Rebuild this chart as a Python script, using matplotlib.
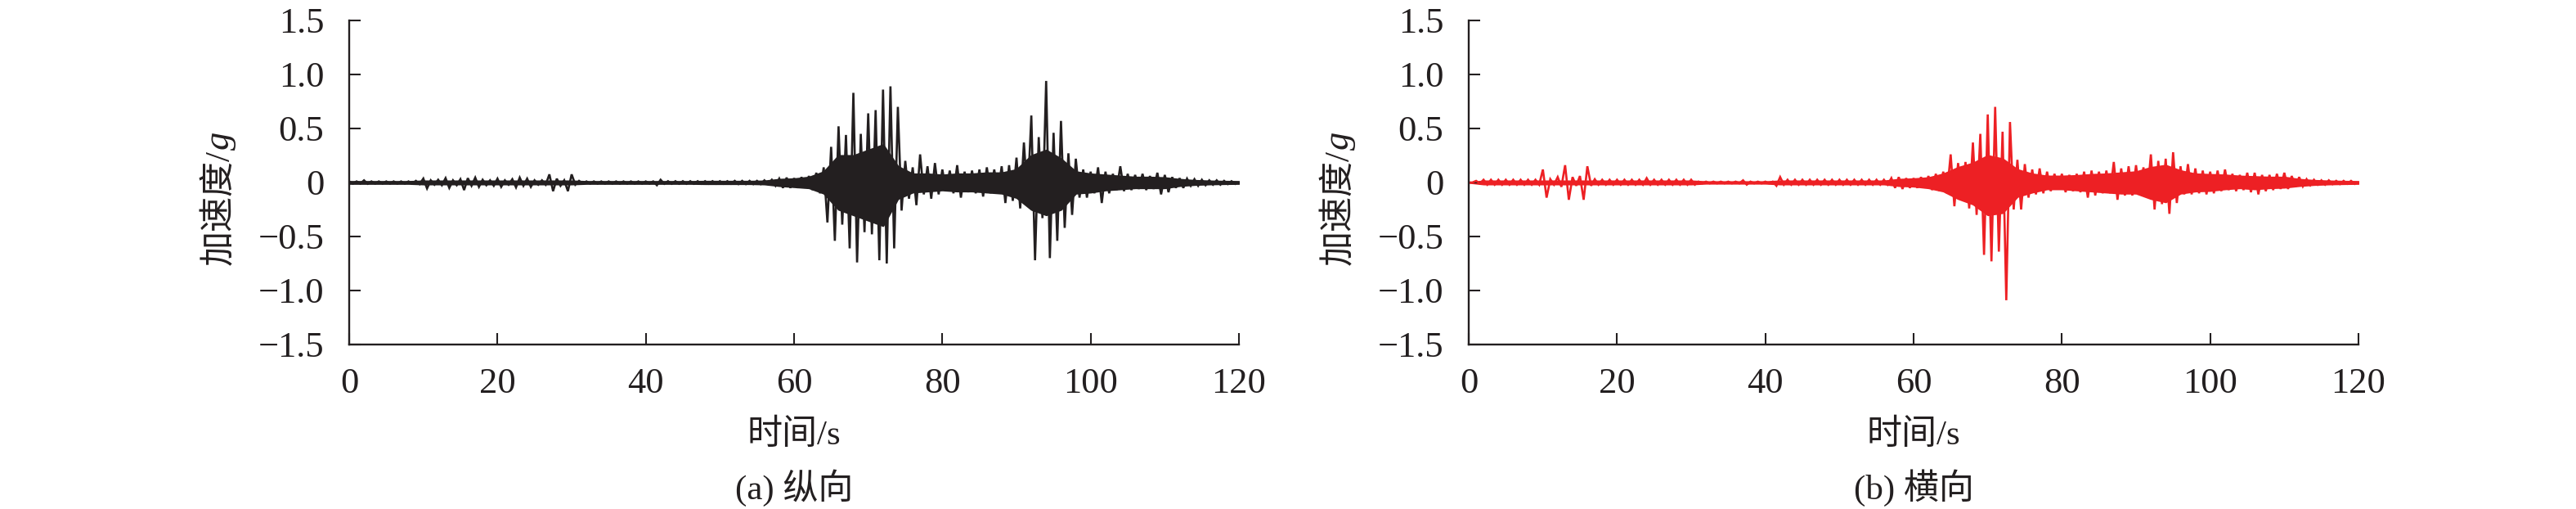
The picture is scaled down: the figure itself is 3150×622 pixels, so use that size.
import numpy as np
import matplotlib
matplotlib.use("Agg")
import matplotlib.pyplot as plt

# peak values, one pair per second (t = 0..119 s)
# upper peak sits at t, lower peak at t + 0.5
t_sec = list(range(120))

long_upper = [
    0.01, 0.01, 0.02, 0.01, 0.01, 0.01, 0.01, 0.01, 0.01, 0.015,
    0.036, 0.02, 0.025, 0.04, 0.02, 0.03, 0.04, 0.045, 0.025, 0.02,
    0.035, 0.02, 0.03, 0.045, 0.035, 0.02, 0.02, 0.075, 0.035, 0.02,
    0.075, 0.015, 0.01, 0.01, 0.01, 0.01, 0.01, 0.01, 0.01, 0.01,
    0.01, 0.01, 0.025, 0.012, 0.012, 0.012, 0.012, 0.012, 0.012, 0.012,
    0.012, 0.012, 0.015, 0.015, 0.015, 0.015, 0.02, 0.025, 0.035, 0.045,
    0.04, 0.05, 0.06, 0.09, 0.14, 0.33, 0.52, 0.44, 0.83, 0.45,
    0.64, 0.67, 0.86, 0.89, 0.70, 0.20, 0.14, 0.26, 0.15, 0.18,
    0.12, 0.11, 0.16, 0.10, 0.11, 0.12, 0.14, 0.12, 0.15, 0.16,
    0.23, 0.37, 0.62, 0.42, 0.94, 0.46, 0.57, 0.27, 0.22, 0.12,
    0.10, 0.14, 0.10, 0.08, 0.15, 0.08, 0.07, 0.08, 0.06, 0.09,
    0.07, 0.05, 0.04, 0.035, 0.03, 0.025, 0.02, 0.02, 0.015, 0.012,
]
long_lower = [
    -0.01, -0.01, -0.012, -0.01, -0.01, -0.01, -0.01, -0.01, -0.01, -0.015,
    -0.055, -0.02, -0.025, -0.05, -0.025, -0.07, -0.03, -0.04, -0.025, -0.03,
    -0.04, -0.02, -0.045, -0.03, -0.04, -0.02, -0.02, -0.08, -0.03, -0.08,
    -0.02, -0.01, -0.01, -0.01, -0.01, -0.01, -0.01, -0.01, -0.01, -0.01,
    -0.01, -0.025, -0.012, -0.012, -0.012, -0.012, -0.012, -0.012, -0.012, -0.012,
    -0.012, -0.012, -0.015, -0.015, -0.015, -0.015, -0.015, -0.03, -0.05, -0.05,
    -0.05, -0.05, -0.07, -0.10, -0.37, -0.54, -0.39, -0.61, -0.74, -0.46,
    -0.48, -0.72, -0.75, -0.61, -0.26, -0.15, -0.21, -0.11, -0.15, -0.11,
    -0.08, -0.10, -0.14, -0.09, -0.10, -0.13, -0.10, -0.10, -0.19, -0.17,
    -0.24, -0.15, -0.72, -0.33, -0.70, -0.54, -0.42, -0.30, -0.14, -0.14,
    -0.10, -0.19, -0.10, -0.07, -0.08, -0.07, -0.06, -0.07, -0.06, -0.11,
    -0.09, -0.05, -0.05, -0.03, -0.03, -0.025, -0.02, -0.02, -0.015, -0.012,
]

lat_upper = [
    0.0, 0.015, 0.025, 0.025, 0.025, 0.025, 0.025, 0.025, 0.025, 0.025,
    0.12, 0.03, 0.05, 0.16, 0.05, 0.06, 0.15, 0.03, 0.025, 0.025,
    0.025, 0.025, 0.025, 0.025, 0.04, 0.025, 0.025, 0.025, 0.025, 0.025,
    0.025, 0.008, 0.008, 0.008, 0.008, 0.008, 0.008, 0.02, 0.008, 0.008,
    0.008, 0.008, 0.05, 0.025, 0.025, 0.025, 0.025, 0.025, 0.025, 0.025,
    0.025, 0.025, 0.025, 0.025, 0.025, 0.025, 0.025, 0.04, 0.05, 0.04,
    0.04, 0.05, 0.06, 0.08, 0.10, 0.26, 0.18, 0.19, 0.37, 0.45,
    0.63, 0.70, 0.47, 0.56, 0.21, 0.17, 0.12, 0.13, 0.10, 0.08,
    0.08, 0.07, 0.08, 0.10, 0.11, 0.10, 0.11, 0.19, 0.13, 0.15,
    0.16, 0.14, 0.26, 0.20, 0.22, 0.28, 0.15, 0.17, 0.13, 0.11,
    0.10, 0.11, 0.12, 0.08, 0.07, 0.09, 0.09, 0.07, 0.07, 0.08,
    0.09, 0.06, 0.05, 0.03, 0.025, 0.02, 0.02, 0.015, 0.015, 0.015,
]
lat_lower = [
    0.0, -0.01, -0.02, -0.02, -0.02, -0.02, -0.02, -0.02, -0.02, -0.02,
    -0.14, -0.02, -0.04, -0.16, -0.03, -0.16, -0.03, -0.02, -0.02, -0.02,
    -0.02, -0.02, -0.02, -0.02, -0.02, -0.02, -0.02, -0.02, -0.02, -0.02,
    -0.02, -0.008, -0.008, -0.008, -0.008, -0.008, -0.008, -0.02, -0.008, -0.008,
    -0.008, -0.03, -0.02, -0.02, -0.02, -0.02, -0.02, -0.02, -0.02, -0.02,
    -0.02, -0.02, -0.02, -0.02, -0.02, -0.02, -0.02, -0.05, -0.06, -0.05,
    -0.05, -0.05, -0.07, -0.08, -0.10, -0.22, -0.15, -0.24, -0.30, -0.67,
    -0.73, -0.64, -1.09, -0.25, -0.25, -0.14, -0.11, -0.10, -0.08, -0.06,
    -0.09, -0.08, -0.09, -0.14, -0.12, -0.10, -0.10, -0.16, -0.12, -0.12,
    -0.11, -0.13, -0.25, -0.20, -0.29, -0.19, -0.11, -0.11, -0.10, -0.11,
    -0.10, -0.08, -0.07, -0.08, -0.07, -0.09, -0.11, -0.08, -0.07, -0.06,
    -0.06, -0.04, -0.035, -0.025, -0.02, -0.02, -0.015, -0.015, -0.012, -0.012,
]

# solid core of the trace (densely packed cycles), read every 2 s
t_core = list(range(0, 121, 2))
long_core_hi = [
    0.01, 0.01, 0.01, 0.01, 0.01, 0.015, 0.015, 0.015, 0.015, 0.015,
    0.015, 0.015, 0.015, 0.015, 0.015, 0.015, 0.01, 0.01, 0.01, 0.01,
    0.01, 0.01, 0.01, 0.01, 0.012, 0.012, 0.012, 0.012, 0.015, 0.03,
    0.035, 0.05, 0.10, 0.25, 0.25, 0.30, 0.35, 0.15, 0.08, 0.08,
    0.07, 0.08, 0.08, 0.09, 0.09, 0.12, 0.25, 0.30, 0.22, 0.10,
    0.08, 0.07, 0.06, 0.05, 0.05, 0.045, 0.03, 0.02, 0.015, 0.012, 0.01,
]
long_core_lo = [
    -0.01, -0.01, -0.01, -0.01, -0.01, -0.015, -0.015, -0.015, -0.015, -0.015,
    -0.015, -0.015, -0.015, -0.015, -0.015, -0.015, -0.01, -0.01, -0.01, -0.01,
    -0.01, -0.01, -0.01, -0.01, -0.012, -0.012, -0.012, -0.012, -0.015, -0.03,
    -0.04, -0.05, -0.10, -0.25, -0.30, -0.35, -0.40, -0.15, -0.09, -0.08,
    -0.07, -0.08, -0.08, -0.09, -0.10, -0.14, -0.25, -0.30, -0.25, -0.10,
    -0.09, -0.07, -0.06, -0.05, -0.05, -0.05, -0.03, -0.02, -0.015, -0.012, -0.01,
]
lat_core_hi = [
    0.0, 0.015, 0.015, 0.015, 0.015, 0.015, 0.015, 0.015, 0.015, 0.015,
    0.015, 0.015, 0.015, 0.015, 0.015, 0.015, 0.008, 0.008, 0.008, 0.008,
    0.008, 0.015, 0.015, 0.015, 0.015, 0.015, 0.015, 0.015, 0.015, 0.03,
    0.035, 0.045, 0.08, 0.14, 0.18, 0.25, 0.22, 0.12, 0.08, 0.06,
    0.06, 0.065, 0.075, 0.08, 0.09, 0.10, 0.14, 0.16, 0.11, 0.08,
    0.075, 0.07, 0.06, 0.055, 0.05, 0.05, 0.03, 0.02, 0.015, 0.012, 0.01,
]
lat_core_lo = [
    0.0, -0.015, -0.015, -0.015, -0.015, -0.015, -0.015, -0.015, -0.015, -0.015,
    -0.015, -0.015, -0.015, -0.015, -0.015, -0.015, -0.008, -0.008, -0.008, -0.008,
    -0.008, -0.015, -0.015, -0.015, -0.015, -0.015, -0.015, -0.015, -0.015, -0.03,
    -0.035, -0.05, -0.08, -0.15, -0.20, -0.30, -0.28, -0.13, -0.09, -0.06,
    -0.06, -0.07, -0.08, -0.09, -0.10, -0.10, -0.15, -0.18, -0.10, -0.08,
    -0.075, -0.06, -0.05, -0.06, -0.05, -0.045, -0.03, -0.02, -0.015, -0.012, -0.01,
]

x_ticks = [0, 20, 40, 60, 80, 100, 120]
y_ticks = [-1.5, -1.0, -0.5, 0, 0.5, 1.0, 1.5]
y_ticklabels = ['\u22121.5', '\u22121.0', '\u22120.5', '0', '0.5', '1.0', '1.5']
captions = ['(a) 纵向', '(b) 横向']
colors = ['#231f20', '#ed2024']

FAM = ['Liberation Serif', 'Noto Sans CJK SC']
plt.rcParams['font.family'] = FAM
AXC = '#231f20'


def zigzag(t, up, lo):
    xs, ys = [], []
    for ti, u, l in zip(t, up, lo):
        xs += [ti, ti + 0.5]
        ys += [u, l]
    return np.array(xs), np.array(ys)


fig = plt.figure(figsize=(31.5, 6.22), dpi=100)
lefts = [427 / 3150, 1796 / 3150]
W = 1088 / 3150
B = 1 - 421 / 622
H = 396 / 622

series = [(long_upper, long_lower, long_core_hi, long_core_lo),
          (lat_upper, lat_lower, lat_core_hi, lat_core_lo)]
for k in range(2):
    up, lo, chi, clo = series[k]
    ax = fig.add_axes([lefts[k], B, W, H])
    ax.fill_between(t_core, clo, chi, color=colors[k], lw=1.5,
                    edgecolor=colors[k])
    xs, ys = zigzag(t_sec, up, lo)
    ax.plot(xs, ys, color=colors[k], lw=1.9, solid_joinstyle='miter')
    ax.set_xlim(0, 120)
    ax.set_ylim(-1.5, 1.5)
    for s in ['top', 'right']:
        ax.spines[s].set_visible(False)
    for s in ['left', 'bottom']:
        ax.spines[s].set_linewidth(1.7)
        ax.spines[s].set_color(AXC)
    ax.set_xticks(x_ticks)
    ax.set_yticks(y_ticks)
    ax.set_yticklabels(y_ticklabels)
    ax.tick_params(direction='in', length=10, width=1.5, color=AXC,
                   labelsize=32, labelcolor=AXC)
    ax.tick_params(axis='x', pad=20)
    ax.tick_params(axis='y', pad=22)

    # y label: "加速度/" + italic "g"
    ax.text(-0.135, 0.6, '加速度/', transform=ax.transAxes, rotation=90,
            rotation_mode='anchor', ha='right', va='baseline',
            fontsize=31, color=AXC)
    ax.text(-0.135, 0.6, 'g', transform=ax.transAxes, rotation=90,
            rotation_mode='anchor', ha='left', va='baseline',
            fontsize=32, style='italic', color=AXC)

    cx = lefts[k] + W / 2
    fig.text(cx, 1 - 532 / 622, '时间/s', ha='center', va='center',
             fontsize=31, color=AXC)
    fig.text(cx, 1 - 596 / 622, captions[k], ha='center', va='center',
             fontsize=31, color=AXC)

fig.savefig('out.png', dpi=100)
